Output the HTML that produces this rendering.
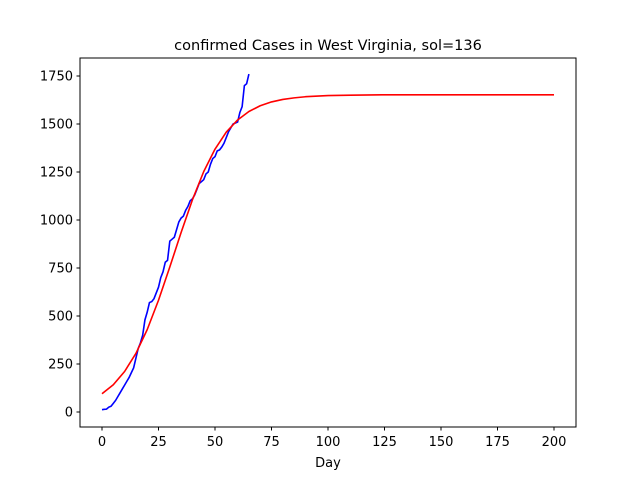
<!DOCTYPE html>
<html><head><meta charset="utf-8"><style>
body{margin:0;background:#fff;}
svg text{font-family:"DejaVu Sans","Liberation Sans",sans-serif;fill:#000;}
</style></head><body>
<svg width="640" height="480" xmlns="http://www.w3.org/2000/svg">
<rect width="640" height="480" fill="#fff"/>
<text x="328" y="50" font-size="14.5" text-anchor="middle">confirmed Cases in West Virginia, sol=136</text>
<g id="axes"></g>
<rect x="80" y="58" width="496" height="369" fill="none" stroke="#000" stroke-width="1"/>
<text x="328" y="467" font-size="13" text-anchor="middle">Day</text>
</svg>
<script>
const xTicks=[0,25,50,75,100,125,150,175,200];
const yTicks=[0,250,500,750,1000,1250,1500,1750];
const blueDays=[0,1,2,3,4,5,6,7,8,9,10,11,12,13,14,15,16,17,18,19,20,21,22,23,24,25,26,27,28,29,30,31,32,33,34,35,36,37,38,39,40,41,42,43,44,45,46,47,48,49,50,51,52,53,54,55,56,57,58,59,60,61,62,63,64,65];
const blueVals=[12,14,15,25,30,45,60,80,100,120,140,160,180,205,230,280,330,360,400,480,520,570,575,590,620,650,700,730,780,790,890,900,910,950,990,1010,1020,1050,1070,1100,1110,1130,1160,1190,1200,1210,1240,1250,1290,1320,1330,1360,1365,1380,1400,1430,1460,1480,1500,1505,1510,1560,1590,1700,1710,1760];
const redDays=[0,5,10,15,20,25,30,35,40,45,50,55,60,65,70,75,80,85,90,100,110,125,150,175,200];
const redVals=[95,142,211,305,429,582,755,935,1105,1252,1369,1458,1521,1565,1595,1615,1628,1636,1642,1648,1650,1652,1652,1652,1652];
const X=t=>102+t*2.26, Y=v=>412-v*0.192;
const NS="http://www.w3.org/2000/svg", g=document.getElementById('axes');
function mk(tag,attrs){const e=document.createElementNS(NS,tag);for(const k in attrs)e.setAttribute(k,attrs[k]);g.appendChild(e);return e;}
xTicks.forEach(t=>{
  const l=mk('line',{x1:X(t),x2:X(t),y1:427,y2:430.5,stroke:'#000'});
  
  
  const tx=mk('text',{x:X(t),y:446,'font-size':13,'text-anchor':'middle'});tx.textContent=t;
  
  
});
yTicks.forEach(v=>{
  const l=mk('line',{x1:76.5,x2:80,y1:Y(v),y2:Y(v),stroke:'#000'});
  
  
  const tx=mk('text',{x:73,y:Y(v)+4.5,'font-size':13,'text-anchor':'end'});tx.textContent=v;
  
  
});
const bp=mk('polyline',{points:blueDays.map((d,i)=>X(d)+','+Y(blueVals[i])).join(' '),fill:'none',stroke:'#0000ff','stroke-width':1.6});


const rp=mk('polyline',{points:redDays.map((d,i)=>X(d)+','+Y(redVals[i])).join(' '),fill:'none',stroke:'#ff0000','stroke-width':1.6,'stroke-linejoin':'round'});


</script>
</body></html>
